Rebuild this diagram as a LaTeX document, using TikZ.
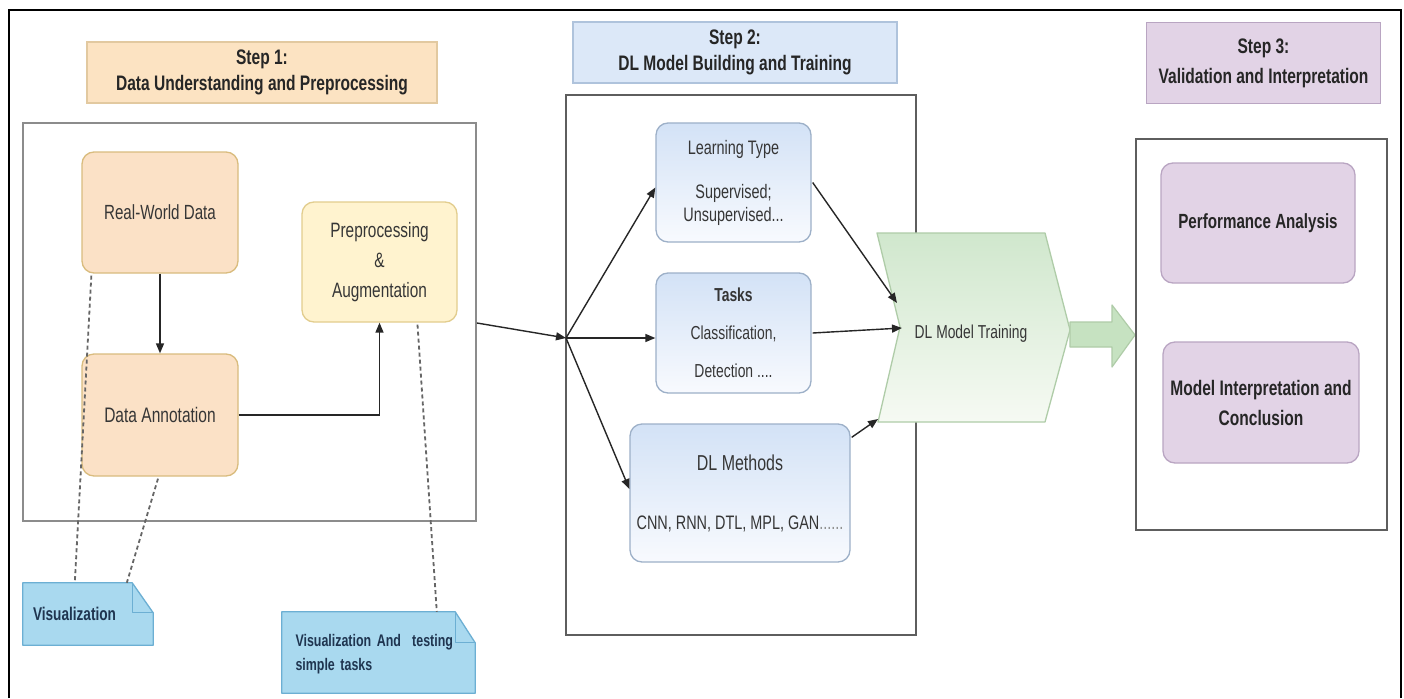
\documentclass[tikz,border=0pt]{standalone}
\usepackage{fontspec}
\setmainfont[FakeStretch=0.74]{Liberation Sans}
\usetikzlibrary{arrows.meta,calc}

\definecolor{peachfill}{HTML}{FBE1C6}
\definecolor{peachline}{HTML}{D9BC7E}
\definecolor{yelfill}{HTML}{FFF3CF}
\definecolor{yelline}{HTML}{E2CD8E}
\definecolor{bluehdr}{HTML}{DCE8F8}
\definecolor{bluehdrline}{HTML}{AFC3DC}
\definecolor{bluetop}{HTML}{D3E2F6}
\definecolor{bluebot}{HTML}{F8FAFE}
\definecolor{blueline}{HTML}{9DB0C8}
\definecolor{greentop}{HTML}{D0E7CD}
\definecolor{greenbot}{HTML}{F6FAF3}
\definecolor{greenline}{HTML}{AFCCA8}
\definecolor{greenarrow}{HTML}{C6E2C1}
\definecolor{lilac}{HTML}{E2D3E6}
\definecolor{lilacline}{HTML}{B9A5C2}
\definecolor{notefill}{HTML}{A9D9EF}
\definecolor{noteline}{HTML}{6CAFD3}
\definecolor{notetext}{HTML}{1F3550}
\definecolor{hdrpeach}{HTML}{FCE3C2}
\definecolor{hdrpeachline}{HTML}{E2C9A0}
\definecolor{ink}{HTML}{363636}
\definecolor{framegray}{HTML}{5E5E5E}

\tikzset{
  txt/.style={text=ink, font=\fontsize{20.5}{24}\selectfont, align=center, inner sep=0pt},
  hdr/.style={txt, text=black!85, font=\bfseries\fontsize{21}{26}\selectfont, line width=1.3pt},
  peachbox/.style={txt, rounded corners=12pt, fill=peachfill, draw=peachline, line width=1.3pt},
  yelbox/.style={txt, rounded corners=12pt, fill=yelfill, draw=yelline, line width=1.3pt},
  bluebox/.style={txt, rounded corners=12pt, top color=bluetop, bottom color=bluebot, draw=blueline, line width=1.3pt, font=\fontsize{19.5}{23}\selectfont},
  lilacbox/.style={txt, rounded corners=12pt, fill=lilac, draw=lilacline, line width=1.3pt, font=\bfseries\fontsize{20.5}{30}\selectfont, text=black!85},
  group/.style={draw=framegray, line width=1.8pt, inner sep=0pt},
  note/.style={inner sep=0pt, text=notetext, font=\bfseries\fontsize{18.4}{24}\selectfont, align=left},
  notepaper/.style={fill=notefill, draw=noteline, line width=1.3pt, line join=round},
  link/.style={draw=black!85, line width=1.4pt, -{Triangle[length=10pt,width=8pt]}},
  hint/.style={draw=black!60, line width=1.8pt, dash pattern=on 4pt off 3pt},
}

\begin{document}
\begin{tikzpicture}[x=1pt,y=-1pt]
\useasboundingbox (0,0) rectangle (1404,698);
\fill[white] (0,0) rectangle (1404,698);

% outer frame, open at the bottom
\draw[black, line width=2.2pt] (9,698) -- (9,10) -- (1401,10) -- (1401,698);

% ---------------- Step 1 ----------------
\node[hdr, fill=hdrpeach, draw=hdrpeachline, minimum width=350, minimum height=61] (h1) at (262,72.5)
  {Step 1:\\Data Understanding and Preprocessing};
\node[group, draw=black!45, minimum width=453, minimum height=398] (s1) at (249.5,322) {};

\node[peachbox, minimum width=156, minimum height=121] (rw) at (160,212.5) {Real-World Data};
\node[peachbox, minimum width=156, minimum height=122, font=\fontsize{21}{24}\selectfont] (da) at (160,415) {Data Annotation};
\node[yelbox, minimum width=155, minimum height=120, font=\fontsize{20.8}{30}\selectfont] (pp) at (379.5,262)
  {Preprocessing\\\&\\Augmentation};

\draw[link] (rw.south) -- (da.north);
\draw[link] (da.east) -| (pp.south);

% notes: folded-corner paper with its text
\node[minimum width=130, minimum height=62, inner sep=0pt] (v1) at (88,614) {};
\node[minimum width=193, minimum height=81, inner sep=0pt] (v2) at (378.5,652.5) {};
\path[notepaper] (v1.north west) -- ($(v1.north east)+(-21,0)$) -- ($(v1.north east)+(0,30)$)
  -- (v1.south east) -- (v1.south west) -- cycle;
\draw[noteline, line width=1.2pt, line join=round] ($(v1.north east)+(-21,0)$) -- ($(v1.north east)+(-21,30)$) -- ($(v1.north east)+(0,30)$);
\path[notepaper] (v2.north west) -- ($(v2.north east)+(-20,0)$) -- ($(v2.north east)+(0,31)$)
  -- (v2.south east) -- (v2.south west) -- cycle;
\draw[noteline, line width=1.2pt, line join=round] ($(v2.north east)+(-20,0)$) -- ($(v2.north east)+(-20,31)$) -- ($(v2.north east)+(0,31)$);
\node[note, text width=110] at (v1) {Visualization};
\node[note, text width=166, font=\bfseries\fontsize{16.8}{24}\selectfont] at ($(v2)+(0,2)$) {Visualization And\ \ testing\\simple tasks};

\draw[hint] ($(rw.south west)+(10,2)$) -- ($(v1.north west)+(52,0)$);
\draw[hint] ($(da.south)+(-2,2)$) -- ($(v1.north west)+(104,0)$);
\draw[hint] ($(pp.south)+(38,2)$) -- ($(v2.north west)+(155,0)$);

% ---------------- Step 2 ----------------
\node[hdr, fill=bluehdr, draw=bluehdrline, minimum width=324, minimum height=61] (h2) at (735,52.5)
  {Step 2:\\DL Model Building and Training};
\node[group, minimum width=350, minimum height=540] (s2) at (741,365) {};

\node[bluebox, minimum width=155, minimum height=119] (lt) at (733.5,182.5)
  {Learning Type\\[21pt]Supervised;\\Unsupervised...};
\node[bluebox, minimum width=155, minimum height=120, font=\fontsize{18.8}{23}\selectfont] (tk) at (733.5,333)
  {\bfseries Tasks\\[15pt]Classification,\\[15pt]Detection ....};
\node[bluebox, minimum width=220, minimum height=138, font=\fontsize{19.5}{23}\selectfont] (dm) at (740,493)
  {{\fontsize{21.6}{23}\selectfont DL Methods}\\[36pt]CNN, RNN, DTL, MPL, GAN{\color{black!45}......}};

% model training chevron
\shade[top color=greentop, bottom color=greenbot, draw=greenline, line width=1.3pt, line join=round]
  (877,233) -- (1045,233) -- (1070,330) -- (1045,422) -- (878,422) -- (900,327) -- cycle;
\node[txt, font=\fontsize{18.7}{20}\selectfont] (tr) at (971,334) {DL Model Training};
\coordinate (trtop) at (897,303);
\coordinate (trmid) at (902,328);
\coordinate (trlow) at (878,419);
\coordinate (trtip) at (1070,334);

% incoming flow from step 1 and its split
\coordinate (s1out) at (s1.east |- 0,323);
\coordinate (hub) at (566,338);
\draw[link] (s1out) -- (hub);
\draw[link] (hub) -- ($(lt.west)+(0,5)$);
\draw[link] (hub) -- (tk.west |- hub);
\draw[link] (hub) -- ($(dm.west)+(0,-4)$);

\draw[link] ($(lt.east)+(1,0)$) -- (trtop);
\draw[link] ($(tk.east)+(1,0)$) -- (trmid);
\draw[link] ($(dm.north east)+(1,14)$) -- (trlow);

% block arrow to step 3
\filldraw[fill=greenarrow, draw=greenline, line width=1.2pt, line join=round]
  (trtip) ++(0,-12) -- ++(42,0) -- ++(0,-17) -- (1135,335) -- (1112,367) -- (1112,347) -- (1070,347) -- cycle;

% ---------------- Step 3 ----------------
\node[hdr, fill=lilac, draw=lilacline, minimum width=234, minimum height=81, font=\bfseries\fontsize{21}{30}\selectfont] (h3) at (1263.5,63)
  {Step 3:\\Validation and Interpretation};
\node[group, minimum width=251, minimum height=391] (s3) at (1261.5,334.5) {};

\node[lilacbox, minimum width=194, minimum height=120] (pa) at (1258,223) {Performance Analysis};
\node[lilacbox, minimum width=196, minimum height=121, font=\bfseries\fontsize{21}{30}\selectfont] (mi) at (1261,402.5) {Model Interpretation and\\Conclusion};

\end{tikzpicture}
\end{document}
